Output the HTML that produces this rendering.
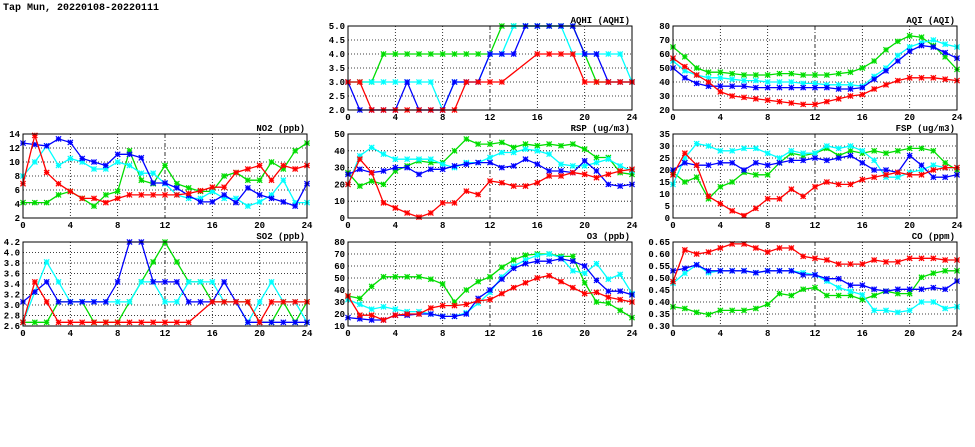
<!DOCTYPE html>
<html><head><meta charset="utf-8">
<style>
html,body{margin:0;padding:0;background:#fff;}
svg{display:block;}
text{font-family:"Liberation Mono",monospace;font-weight:bold;fill:#000;}
</style></head>
<body>
<svg id="chart" width="975" height="447" viewBox="0 0 975 447" xmlns="http://www.w3.org/2000/svg">
<text x="3" y="10" font-size="10">Tap Mun, 20220108-20220111</text>
</svg>
<script>
const hours = [0,1,2,3,4,5,6,7,8,9,10,11,12,13,14,15,16,17,18,19,20,21,22,23,24];
const xTicks = [0,4,8,12,16,20,24];
const seriesColors = ["#00dd00","#00ffff","#0000ff","#ff0000"];
const seriesNames = ["green","cyan","blue","red"];

const aqhiTicks = ["2.0","2.5","3.0","3.5","4.0","4.5","5.0"];
const aqhiGreen = [3,3,3,4,4,4,4,4,4,4,4,4,4,5,5,5,5,5,5,5,4,3,3,3,3];
const aqhiCyan = [3,3,3,3,3,3,3,3,2,3,3,3,4,4,5,5,5,5,5,4,4,4,4,4,3];
const aqhiBlue = [3,2,2,2,2,3,2,2,2,3,3,3,4,4,4,5,5,5,5,5,4,4,3,3,3];
const aqhiRed = [3,3,2,2,2,2,2,2,2,2,3,3,3,3,null,null,4,4,4,4,3,3,3,3,3];

const aqiTicks = ["20","30","40","50","60","70","80"];
const aqiGreen = [65,58,50,47,47,46,45,45,45,46,46,45,45,45,46,47,50,55,63,69,73,72,66,58,49];
const aqiCyan = [55,48,45,43,43,42,41,41,40,40,40,39,39,38,38,38,37,44,50,59,65,68,70,67,65];
const aqiBlue = [50,43,39,37,37,37,37,36,36,36,36,36,36,36,35,35,36,42,48,55,62,66,65,61,57];
const aqiRed = [57,51,45,40,33,30,29,28,27,26,25,24,24,26,28,30,31,35,38,41,43,43,43,42,41];

const no2Ticks = ["2","4","6","8","10","12","14"];
const no2Green = [4.2,4.2,4.2,5.3,5.8,4.8,3.7,5.3,5.8,11.6,7.4,6.9,9.5,6.9,6.3,5.8,5.8,8,8.5,7.4,7.4,10,9,11.6,12.7];
const no2Cyan = [8,10,12.3,9.5,10.5,10,9,9,10,9.5,8.4,8.4,6.9,5.3,4.8,4.8,5.8,4.8,4.8,3.7,4.3,5.3,7.4,4.2,4.2];
const no2Blue = [12.7,12.5,12.3,13.3,12.8,10.5,10,9.5,11.1,11.1,10.6,7,7,6.3,5.2,4.3,4.3,5.3,4.2,6.3,5.3,4.8,4.3,3.7,6.9];
const no2Red = [6.9,13.8,8.5,6.9,5.8,4.8,4.8,4.2,4.8,5.3,5.3,5.3,5.3,5.3,5.5,5.9,6.4,6.4,8.5,9,9.5,7.4,9.5,9,9.5];

const rspTicks = ["0","10","20","30","40","50"];
const rspGreen = [27,19,22,20,28,31,34,33,33,40,47,44,44,45,42,44,43,44,43,44,41,36,36,27,26];
const rspCyan = [20,37,42,38,35,35,35,35,32,30,33,33,36,39,39,41,40,38,32,31,31,33,35,31,28];
const rspBlue = [26,29,27,28,30,30,26,29,29,31,32,33,33,30,31,35,32,28,28,27,34,28,20,19,20];
const rspRed = [20,35,27,9,6,3,0.5,3,9,9,16,14,22,21,19,19,21,25,25,27,26,24,26,28,29];

const fspTicks = ["0","5","10","15","20","25","30","35"];
const fspGreen = [19,15,17,8,13,15,19,18,18,23,27,26,27,29,26,28,27,28,27,28,29,29,28,23,20];
const fspCyan = [14,25,31,30,28,28,29,29,27,25,28,27,27,30,29,30,28,24,17,17,19,20,22,21,21];
const fspBlue = [20,23,22,22,23,23,20,23,22,23,24,24,25,24,25,26,23,20,20,19,26,22,17,17,18];
const fspRed = [18,27,22,9,6,3,1,4,8,8,12,9,13,15,14,14,16,17,18,19,18,18,20,21,21];

const so2Ticks = ["2.6","2.8","3.0","3.2","3.4","3.6","3.8","4.0","4.2"];
const so2Green = [2.67,2.67,2.67,3.06,3.06,3.06,2.67,2.67,2.67,3.06,3.44,3.82,4.2,3.82,3.44,3.44,3.06,3.06,3.06,3.06,2.67,2.67,3.06,2.67,3.06];
const so2Cyan = [2.67,3.25,3.82,3.44,3.06,3.06,3.06,3.06,3.06,3.06,3.44,3.44,3.06,3.06,3.44,3.44,3.44,3.06,3.06,2.67,3.06,3.44,3.06,3.06,2.67];
const so2Blue = [3.06,3.25,3.44,3.06,3.06,3.06,3.06,3.06,3.44,4.2,4.2,3.44,3.44,3.44,3.06,3.06,3.06,3.44,3.06,2.67,2.67,2.67,2.67,2.67,2.67];
const so2Red = [2.67,3.44,3.06,2.67,2.67,2.67,2.67,2.67,2.67,2.67,2.67,2.67,2.67,2.67,2.67,null,3.06,3.06,3.06,3.06,2.67,3.06,3.06,3.06,3.06];

const o3Ticks = ["10","20","30","40","50","60","70","80"];
const o3Green = [35,33,43,51,51,51,51,49,45,30,40,47,51,59,65,69,70,70,68,68,46,30,29,23,17];
const o3Cyan = [32,28,24,26,24,22,22,20,18,18,21,29,38,51,60,65,69,70,67,56,54,62,49,53,37];
const o3Blue = [17,16,15,15,19,19,20,20,18,18,20,33,40,49,58,62,64,64,66,64,60,48,39,39,36];
const o3Red = [35,19,19,15,19,20,20,25,27,27,28,31,32,37,42,46,50,52,47,42,37,38,34,32,30];

const coTicks = ["0.30","0.35","0.40","0.45","0.50","0.55","0.60","0.65"];
const coGreen = [0.38,0.373,0.357,0.348,0.365,0.365,0.365,0.373,0.39,0.435,0.427,0.453,0.46,0.427,0.427,0.427,0.41,0.427,0.445,0.435,0.435,0.503,0.52,0.53,0.53];
const coCyan = [0.478,0.52,0.555,0.522,0.53,0.53,0.53,0.522,0.53,0.53,0.53,0.522,0.513,0.487,0.46,0.445,0.43,0.365,0.365,0.357,0.365,0.4,0.4,0.373,0.38];
const coBlue = [0.53,0.54,0.555,0.53,0.53,0.53,0.53,0.522,0.53,0.53,0.53,0.513,0.513,0.497,0.497,0.47,0.47,0.453,0.445,0.453,0.453,0.453,0.46,0.453,0.487];
const coRed = [0.485,0.617,0.60,0.608,0.625,0.642,0.642,0.625,0.608,0.625,0.625,0.59,0.582,0.575,0.558,0.558,0.558,0.575,0.567,0.567,0.582,0.582,0.582,0.575,0.575];

const panels = [
 {name:"aqhi", title:"AQHI (AQHI)", x:348, y:26, ticks:aqhiTicks, series:[aqhiGreen,aqhiCyan,aqhiBlue,aqhiRed]},
 {name:"aqi", title:"AQI (AQI)", x:673, y:26, ticks:aqiTicks, series:[aqiGreen,aqiCyan,aqiBlue,aqiRed]},
 {name:"no2", title:"NO2 (ppb)", x:23, y:134, ticks:no2Ticks, series:[no2Green,no2Cyan,no2Blue,no2Red]},
 {name:"rsp", title:"RSP (ug/m3)", x:348, y:134, ticks:rspTicks, series:[rspGreen,rspCyan,rspBlue,rspRed]},
 {name:"fsp", title:"FSP (ug/m3)", x:673, y:134, ticks:fspTicks, series:[fspGreen,fspCyan,fspBlue,fspRed]},
 {name:"so2", title:"SO2 (ppb)", x:23, y:242, ticks:so2Ticks, series:[so2Green,so2Cyan,so2Blue,so2Red]},
 {name:"o3", title:"O3 (ppb)", x:348, y:242, ticks:o3Ticks, series:[o3Green,o3Cyan,o3Blue,o3Red]},
 {name:"co", title:"CO (ppm)", x:673, y:242, ticks:coTicks, series:[coGreen,coCyan,coBlue,coRed]}
];

const NS = "http://www.w3.org/2000/svg";
const svg = document.getElementById("chart");
const W = 284, H = 84;
function mk(tag, attrs, parent){
  const e = document.createElementNS(NS, tag);
  for (const k in attrs) e.setAttribute(k, attrs[k]);
  parent.appendChild(e);
  return e;
}

panels.forEach(p => {
  const g = mk("g", {}, svg);
  
  
  const yMin = parseFloat(p.ticks[0]), yMax = parseFloat(p.ticks[p.ticks.length-1]);
  const xs = h => p.x + h / 24 * W;
  const ys = v => p.y + H - (v - yMin) / (yMax - yMin) * H;

  // grid
  xTicks.forEach(t => {
    if (t === 0 || t === 24) return;
    const l = mk("line", {x1:xs(t), x2:xs(t), y1:p.y, y2:p.y+H, stroke:"#000", "stroke-width":0.8, "stroke-dasharray": t===12 ? "4,2,1,2" : "1,2"}, g);
    
    
  });
  p.ticks.forEach((t,i) => {
    const v = parseFloat(t);
    if (i > 0 && i < p.ticks.length-1) {
      const l = mk("line", {x1:p.x, x2:p.x+W, y1:ys(v), y2:ys(v), stroke:"#000", "stroke-width":0.8, "stroke-dasharray":"1,2"}, g);
      
      
    }
    const tx = mk("text", {x:p.x-3, y:ys(v)+3, "font-size":9, "text-anchor":"end"}, g);
    tx.textContent = t;
    
    
  });
  xTicks.forEach(t => {
    const tx = mk("text", {x:xs(t), y:p.y+H+10, "font-size":9, "text-anchor":"middle"}, g);
    tx.textContent = String(t);
    
    
  });
  const ttl = mk("text", {x:p.x+W-2, y:p.y-3, "font-size":9, "text-anchor":"end"}, g);
  ttl.textContent = p.title;
  
  

  p.series.forEach((vals, si) => {
    const col = seriesColors[si];
    const pts = [];
    vals.forEach((v,i) => { if (v !== null) pts.push([xs(hours[i]), ys(v)]); });
    const pl = mk("polyline", {points: pts.map(q => q[0].toFixed(1)+","+q[1].toFixed(1)).join(" "), fill:"none", stroke:col, "stroke-width":1.3}, g);
    
    
    pts.forEach(q => {
      const s = 2.6;
      const m = mk("path", {d:`M${q[0]-s},${q[1]-s}L${q[0]+s},${q[1]+s}M${q[0]-s},${q[1]+s}L${q[0]+s},${q[1]-s}M${q[0]-s},${q[1]}L${q[0]+s},${q[1]}M${q[0]},${q[1]-s}L${q[0]},${q[1]+s}`, stroke:col, "stroke-width":1.2, fill:"none"}, g);
      
      
    });
  });

  const fr = mk("rect", {x:p.x, y:p.y, width:W, height:H, fill:"none", stroke:"#000", "stroke-width":1}, g);
  
  
});
</script>
</body></html>
